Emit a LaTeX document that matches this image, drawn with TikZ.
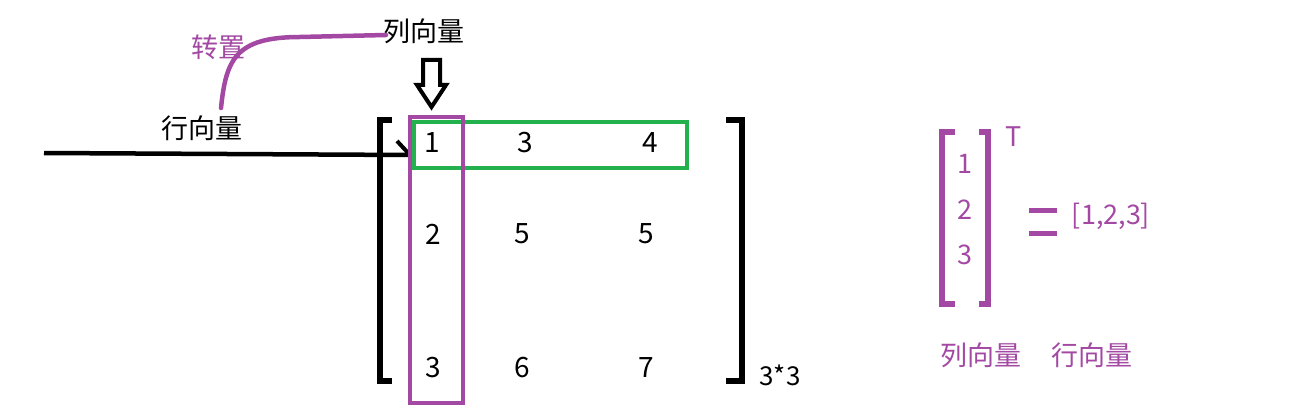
\documentclass[tikz,border=0pt]{standalone}
\usepackage{fontspec}
\setmainfont{Noto Sans CJK SC}
\definecolor{ppurple}{HTML}{A349A4}
\definecolor{pgreen}{HTML}{22B14C}
\begin{document}
\begin{tikzpicture}[x=1pt,y=-1pt,
  lbl/.style={inner sep=0pt,font=\fontsize{27}{28}\selectfont},
  num/.style={inner sep=0pt,font=\fontsize{28}{30}\selectfont},
  pnum/.style={inner sep=0pt,text=ppurple,font=\fontsize{27}{28}\selectfont},
  thick4/.style={line width=4.5pt},
]
\useasboundingbox[fill=white] (0,0) rectangle (1290,417);
% labels
\node[lbl] (colv) at (424,31) {列向量};
\node[lbl] (rowv) at (202,128) {行向量};
\node[lbl,text=ppurple] (tr) at (218,47) {转置};
% purple curve
\coordinate (cs) at (221,108);
\coordinate (ce) at (386,35);
\draw[ppurple,thick4,line cap=round] (cs) .. controls (226,60) and (235,37) .. (300,37) -- (ce);
% black line with barb
\coordinate (ls) at (44,153);
\coordinate (le) at (410,155);
\draw[thick4] (ls) -- (le);
\draw[line width=4pt] (397,141) -- (le);
% hollow down arrow
\draw[line width=4pt,line join=miter] (423,60) -- (440,60) -- (440,85) -- (446,85) -- (431.5,107) -- (417,85) -- (423,85) -- cycle;
% brackets
\draw[line width=5.5pt] (392,120) -- (380,120) -- (380,381) -- (392,381);
\draw[line width=5.5pt] (726,120) -- (742,120) -- (742,381) -- (726,381);
% rectangles
\node[draw=pgreen,line width=4.5pt,minimum width=273pt,minimum height=46pt,inner sep=0pt] (rowbox) at (550.5,145) {};
\node[draw=ppurple,line width=4.5pt,minimum width=53pt,minimum height=286pt,inner sep=0pt] (colbox) at (436.5,260) {};
% matrix entries
\node[num] (a11) at (432,143) {1};
\node[num] (a12) at (525,143) {3};
\node[num] (a13) at (650,143) {4};
\node[num] (a21) at (433,234) {2};
\node[num] (a22) at (522,234) {5};
\node[num] (a23) at (646,234) {5};
\node[num] (a31) at (433,368) {3};
\node[num] (a32) at (522,368) {6};
\node[num] (a33) at (646,368) {7};
\node[inner sep=0pt,font=\fontsize{26}{28}\selectfont] (dim) at (780,375) {3*3};
% right side
\draw[ppurple,line width=5.5pt] (955,132) -- (942,132) -- (942,304) -- (955,304);
\draw[ppurple,line width=5.5pt] (979,132) -- (988,132) -- (988,304) -- (979,304);
\node[pnum] (T) at (1014,137) {T};
\node[pnum] (b1) at (965,164) {1};
\node[pnum] (b2) at (965,210) {2};
\node[pnum] (b3) at (965,255) {3};
\draw[ppurple,line width=5pt] (1029,210) -- (1057,210);
\draw[ppurple,line width=5pt] (1029,233) -- (1057,233);
\node[pnum] (vec) at (1111,216) {[1,2,3]};
\node[lbl,text=ppurple] (colv2) at (981,355) {列向量};
\node[lbl,text=ppurple] (rowv2) at (1092,355) {行向量};
\end{tikzpicture}
\end{document}
